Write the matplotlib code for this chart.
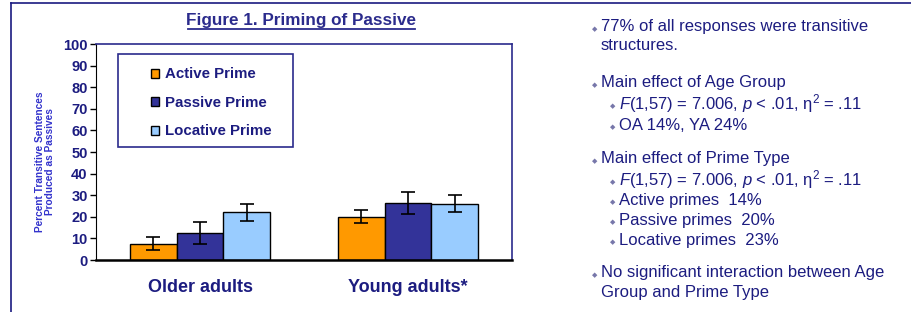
import numpy as np
import matplotlib
matplotlib.use("Agg")
import matplotlib.pyplot as plt
from matplotlib.patches import Patch, Rectangle
from matplotlib.lines import Line2D

plt.rcParams['font.family'] = ['Liberation Sans', 'DejaVu Sans']
plt.rcParams['mathtext.fontset'] = 'custom'
plt.rcParams['mathtext.rm'] = 'Liberation Sans'
plt.rcParams['mathtext.it'] = 'Liberation Sans:italic'

# data
groups = ["Older adults", "Young adults*"]
primes = ["Active Prime", "Passive Prime", "Locative Prime"]
active = [7.5, 20.0]
passive = [12.5, 26.5]
locative = [22.0, 26.0]
active_err = [3.0, 3.0]
passive_err = [5.0, 5.0]
locative_err = [4.0, 4.0]
yticks = list(range(0, 101, 10))

# (indent level, text, has bullet, line centre in px from top)
notes = [
    (0, "77% of all responses were transitive", True, 27),
    (0, "structures.", False, 46),
    (0, "Main effect of Age Group", True, 83),
    (1, r"$\it{F}$(1,57) = 7.006, $\it{p}$ < .01, η$^2$ = .11", True, 104),
    (1, "OA 14%, YA 24%", True, 125),
    (0, "Main effect of Prime Type", True, 159),
    (1, r"$\it{F}$(1,57) = 7.006, $\it{p}$ < .01, η$^2$ = .11", True, 180),
    (1, "Active primes  14%", True, 200),
    (1, "Passive primes  20%", True, 220),
    (1, "Locative primes  23%", True, 240),
    (0, "No significant interaction between Age", True, 273),
    (0, "Group and Prime Type", False, 292),
]

navy = "#2B2B8C"
text_navy = "#1C1C80"
colors = ["#FF9900", "#333399", "#99CCFF"]

W, H = 911, 312
fig = plt.figure(figsize=(W / 100, H / 100), dpi=100)

def fx(px):
    return px / W

def fy(py):
    return 1 - py / H

# outer frame (top and left edges)
fig.add_artist(Line2D([fx(11), fx(11)], [fy(3), fy(312)], color="#1a1a80", lw=1.2))
fig.add_artist(Line2D([fx(11), 1.0], [fy(3), fy(3)], color="#1a1a80", lw=1.2))

ax = fig.add_axes([fx(96), fy(260), fx(512) - fx(96), fy(44) - fy(260)])

x = np.arange(len(groups))
bw = 0.224
series = [active, passive, locative]
errs = [active_err, passive_err, locative_err]
for i, (vals, err, c) in enumerate(zip(series, errs, colors)):
    ax.bar(x + (i - 1) * bw, vals, bw, color=c, edgecolor="black", linewidth=1.0,
           yerr=err, error_kw=dict(ecolor="black", elinewidth=1.2, capsize=5, capthick=1.2),
           zorder=2)

ax.set_xlim(-0.5, 1.5)
ax.set_ylim(0, 100)
ax.set_yticks(yticks)
ax.set_yticklabels([str(t) for t in yticks], fontsize=10.5, fontweight="bold", color=text_navy)
ax.set_xticks(x)
ax.set_xticklabels(groups, fontsize=13, fontweight="bold", color=text_navy)
ax.tick_params(axis="x", length=0, pad=14)
ax.tick_params(axis="y", length=4, width=1, color="black", pad=2)
for s in ["top", "right"]:
    ax.spines[s].set_color(navy)
    ax.spines[s].set_linewidth(1.2)
ax.spines["left"].set_color("black")
ax.spines["bottom"].set_color("black")
ax.spines["bottom"].set_linewidth(1.8)

fig.text(fx(45), fy(162), "Percent Transitive Sentences\nProduced as Passives", rotation=90,
         ha="center", va="center", fontsize=7.3, fontweight="bold", color="#3333CC",
         linespacing=1.1)

fig.text(fx(301), fy(20), "Figure 1. Priming of Passive", ha="center", va="center",
         fontsize=12.3, fontweight="bold", color=navy)
fig.add_artist(Line2D([fx(188), fx(415)], [fy(29), fy(29)], color=navy, lw=1.3))

# legend box
fig.add_artist(Rectangle((fx(118), fy(147)), fx(293) - fx(118), fy(54) - fy(147),
                         transform=fig.transFigure, fill=False, edgecolor=navy, lw=1.2))
handles = [Patch(facecolor=c, edgecolor="black", linewidth=1.0) for c in colors]
leg = fig.legend(handles, primes, loc="upper left", bbox_to_anchor=(fx(140), fy(56)),
                 frameon=False, handlelength=0.6, handleheight=0.6, handletextpad=0.4,
                 labelspacing=1.05, borderpad=0.3)
for t in leg.get_texts():
    t.set_fontsize(10.8)
    t.set_fontweight("bold")
    t.set_color(text_navy)

# notes on the right
for level, line, bullet, ypx in notes:
    bx = 595 if level == 0 else 613
    tx = 601 if level == 0 else 619
    if bullet:
        fig.text(fx(bx), fy(ypx + 2), "◆", fontsize=5, color="#7777AA",
                 ha="center", va="center", family="DejaVu Sans")
    fig.text(fx(tx), fy(ypx), line, fontsize=12, color=text_navy, ha="left", va="center")

fig.savefig("out.png", dpi=100)
